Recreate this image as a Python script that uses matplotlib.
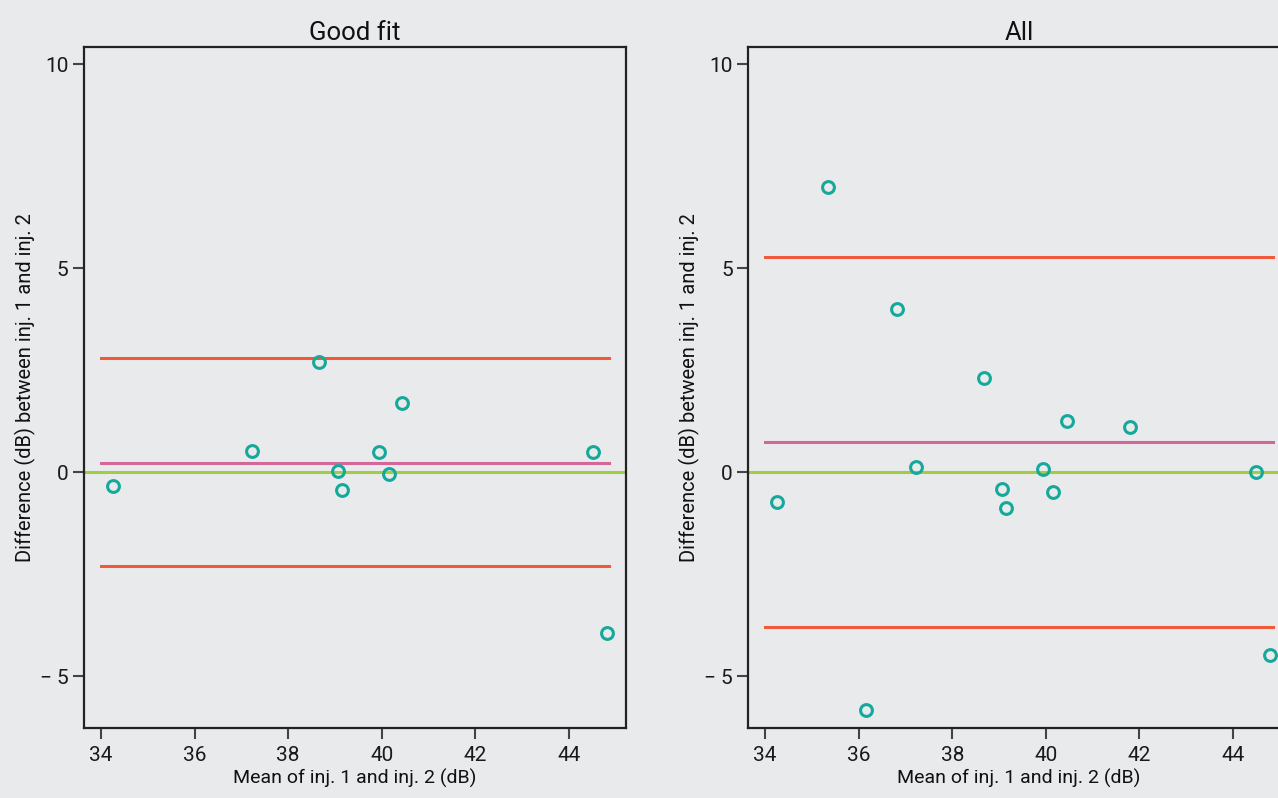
import matplotlib
matplotlib.use('Agg')
import matplotlib.pyplot as plt

plt.rcParams['font.family'] = ['Roboto', 'DejaVu Sans']

# Good fit panel
good_mean = [34.26, 37.23, 38.66, 39.07, 39.15, 39.94, 40.15, 40.43, 44.51, 44.81]
good_diff = [-0.34, 0.51, 2.69, 0.02, -0.44, 0.49, -0.05, 1.69, 0.49, -3.94]
good_bias = 0.22
good_loa = [-2.30, 2.79]

# All panel
all_mean = [34.26, 35.35, 36.15, 36.82, 37.22, 38.68, 39.06, 39.15,
            39.94, 40.15, 40.45, 41.80, 44.49, 44.80]
all_diff = [-0.73, 7.00, -5.84, 3.99, 0.12, 2.30, -0.42, -0.88,
            0.07, -0.49, 1.25, 1.10, 0.00, -4.47]
all_bias = 0.73
all_loa = [-3.79, 5.28]

line_span = [34.0, 44.85]
xticks = [34, 36, 38, 40, 42, 44]
yticks = [-5, 0, 5, 10]
ytick_labels = ['\u2212 5', '0', '5', '10']

bg = '#e9eaeb'
teal = '#14a99b'
red = '#f05a3c'
pink = '#d4679a'
green = '#9fcd45'

fig = plt.figure(figsize=(12.78, 7.98), dpi=100, facecolor=bg)
ax1 = fig.add_axes([0.0657, 0.0877, 0.4241, 0.8534])
ax2 = fig.add_axes([0.5853, 0.0877, 0.4241, 0.8534])

panels = [(ax1, 'Good fit', good_mean, good_diff, good_bias, good_loa),
          (ax2, 'All', all_mean, all_diff, all_bias, all_loa)]

for ax, title, xm, yd, bias, loa in panels:
    ax.set_facecolor(bg)
    ax.axhline(0, color=green, lw=2.2, zorder=1)
    ax.plot(line_span, [bias, bias], color=pink, lw=2.2, zorder=2)
    for v in loa:
        ax.plot(line_span, [v, v], color=red, lw=2.2, zorder=2)
    ax.plot(xm, yd, 'o', ms=8.5, mfc='none', mec=teal, mew=2.2, zorder=3)
    ax.set_xlim(33.637, 45.218)
    ax.set_ylim(-6.27, 10.42)
    ax.set_xticks(xticks)
    ax.set_yticks(yticks)
    ax.set_yticklabels(ytick_labels)
    ax.tick_params(direction='out', length=8, width=1.5, color='#444444',
                   labelsize=15, labelcolor='#1a1a1a')
    ax.tick_params(axis='x', pad=5)
    ax.tick_params(axis='y', pad=3)
    for s in ax.spines.values():
        s.set_linewidth(1.6)
        s.set_color('#222222')
    ax.set_title(title, fontsize=18.5, color='#111111', pad=5)
    ax.set_xlabel('Mean of inj. 1 and inj. 2 (dB)', fontsize=14,
                  color='#111111', labelpad=3)
    ax.set_ylabel('Difference (dB) between inj. 1 and inj. 2', fontsize=14.5,
                  color='#111111', labelpad=3)

fig.savefig('out.png', dpi=100, facecolor=bg)
